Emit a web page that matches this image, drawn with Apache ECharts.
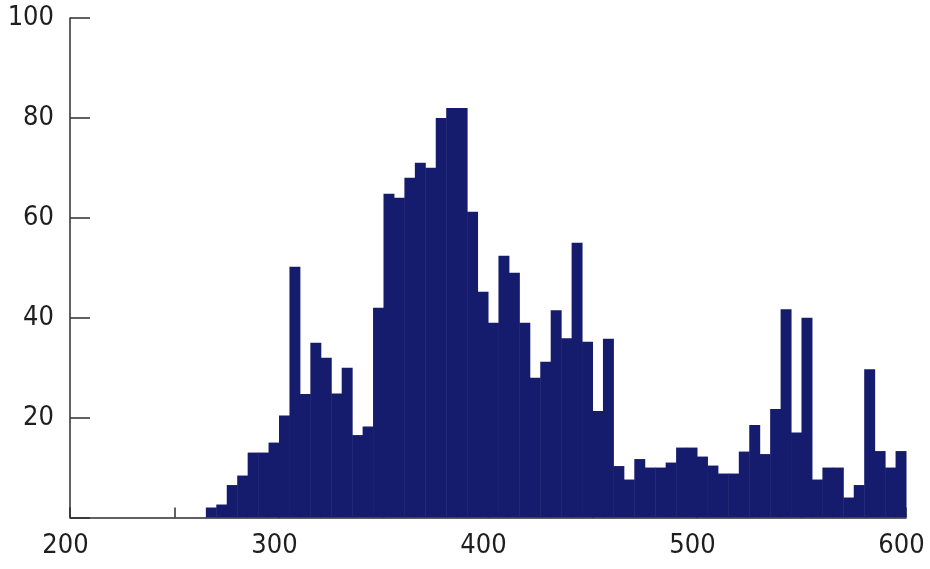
<!DOCTYPE html>
<html>
<head>
<meta charset="utf-8">
<script src="https://cdn.jsdelivr.net/npm/echarts@6/dist/echarts.min.js"></script>
<style>
html,body{margin:0;padding:0;background:#fff;}
#chart{width:930px;height:569px;}
</style>
</head>
<body>
<div id="chart"></div>
<script>
// Bin start positions (bin width 5)
const binStart = [265,270,275,280,285,290,295,300,305,310,315,320,325,330,335,340,345,350,355,360,
  365,370,375,380,385,390,395,400,405,410,415,420,425,430,435,440,445,450,455,460,
  465,470,475,480,485,490,495,500,505,510,515,520,525,530,535,540,545,550,555,560,
  565,570,575,580,585,590,595];
const binWidth = 5;
// Counts per bin
const counts = [2,2.6,6.5,8.4,13,13,15,20.4,50.2,24.7,35,32,24.8,30,16.5,18.2,42,64.8,64,68,
  71,70,80,82,82,61.2,45.2,39,52.4,49,39,28,31.2,41.5,35.9,55,35.2,21.3,35.8,10.3,
  7.6,11.7,10,10,11,14,14,12.2,10.4,8.8,8.8,13.2,18.5,12.7,21.7,41.7,17,40,7.6,10,
  10,4,6.5,29.7,13.3,10,13.3];
const xTickLabels = [200,300,400,500,600];
const yTickLabels = [20,40,60,80,100];

const fontFam = '"DejaVu Sans Condensed","Liberation Sans Narrow",sans-serif';
const chart = echarts.init(document.getElementById('chart'));
chart.setOption({
  animation:false,
  backgroundColor:'#ffffff',
  grid:{left:70,right:24,top:18,bottom:51.5},
  xAxis:{
    type:'value',min:200,max:600,interval:50,
    splitLine:{show:false},
    axisLine:{show:true,lineStyle:{color:'#2e2e2e',width:1.5}},
    axisTick:{show:true,inside:true,length:10,lineStyle:{color:'#2e2e2e',width:1.5}},
    axisLabel:{
      margin:15,color:'#1e1e1e',fontSize:27,fontFamily:fontFam,padding:[0,9,0,0],
      formatter:function(v){return xTickLabels.indexOf(v)>=0?String(v):'';}
    }
  },
  yAxis:{
    type:'value',min:0,max:100,interval:20,
    splitLine:{show:false},
    axisLine:{show:true,lineStyle:{color:'#2e2e2e',width:1.5}},
    axisTick:{show:true,inside:true,length:20,lineStyle:{color:'#2e2e2e',width:1.5}},
    axisLabel:{
      margin:16,color:'#1e1e1e',fontSize:27,fontFamily:fontFam,
      formatter:function(v){return yTickLabels.indexOf(v)>=0?String(v):'';}
    }
  },
  series:[{
    type:'custom',
    data:binStart.map((b,i)=>[b,counts[i]]),
    renderItem:function(params,api){
      const x0=api.value(0), v=api.value(1);
      const p1=api.coord([x0,v]);
      const p2=api.coord([x0+binWidth,0]);
      return {type:'rect',shape:{x:p1[0],y:p1[1],width:p2[0]-p1[0]+0.5,height:p2[1]-p1[1]},
        style:{fill:'#151c6d'}};
    },
    z:1
  }]
});
</script>
</body>
</html>
